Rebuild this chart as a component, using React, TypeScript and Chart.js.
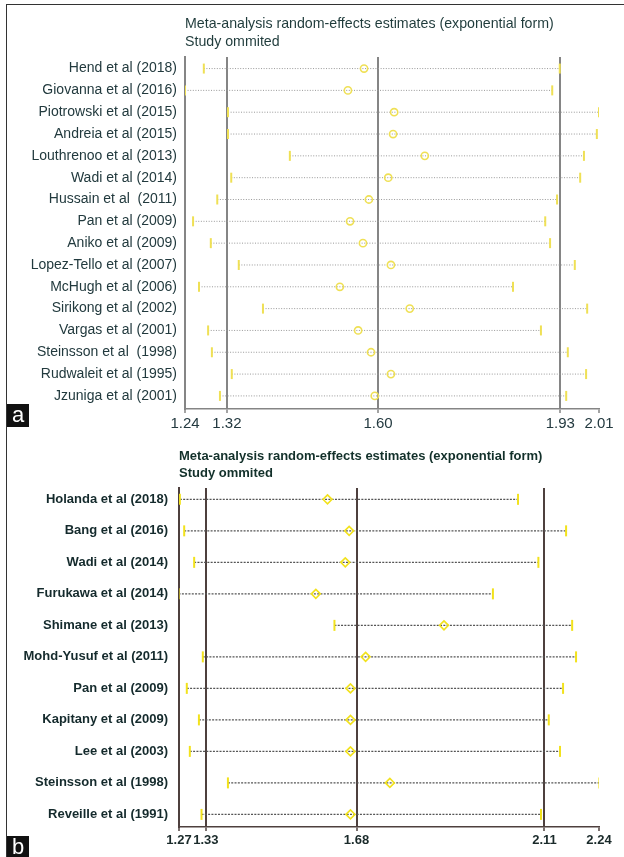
import React, { useEffect, useRef } from "react";
import { Chart, registerables } from "chart.js";

Chart.register(...registerables);

// ---------- Panel a data ----------
const studiesA = [
  "Hend et al (2018)",
  "Giovanna et al (2016)",
  "Piotrowski et al (2015)",
  "Andreia et al (2015)",
  "Louthrenoo et al (2013)",
  "Wadi et al (2014)",
  "Hussain et al  (2011)",
  "Pan et al (2009)",
  "Aniko et al (2009)",
  "Lopez-Tello et al (2007)",
  "McHugh et al (2006)",
  "Sirikong et al (2002)",
  "Vargas et al (2001)",
  "Steinsson et al  (1998)",
  "Rudwaleit et al (1995)",
  "Jzuniga et al (2001)",
];
const estA = [1.573, 1.543, 1.629, 1.627, 1.686, 1.618, 1.582, 1.547, 1.571, 1.623, 1.528, 1.658, 1.562, 1.586, 1.623, 1.593];
const lowA = [1.275, 1.240, 1.320, 1.320, 1.435, 1.326, 1.300, 1.255, 1.288, 1.340, 1.266, 1.385, 1.283, 1.290, 1.327, 1.305];
const highA = [1.937, 1.923, 2.010, 2.006, 1.982, 1.975, 1.932, 1.910, 1.919, 1.965, 1.850, 1.988, 1.902, 1.952, 1.986, 1.949];
const tickValuesA = [1.24, 1.318, 1.599, 1.938, 2.01];
const tickLabelsA = ["1.24", "1.32", "1.60", "1.93", "2.01"];
const titleA = ["Meta-analysis random-effects estimates (exponential form)", "Study ommited"];

// ---------- Panel b data ----------
const studiesB = [
  "Holanda et al (2018)",
  "Bang et al (2016)",
  "Wadi et al (2014)",
  "Furukawa et al (2014)",
  "Shimane et al (2013)",
  "Mohd-Yusuf et al (2011)",
  "Pan et al (2009)",
  "Kapitany et al (2009)",
  "Lee et al (2003)",
  "Steinsson et al (1998)",
  "Reveille et al (1991)",
];
const estB = [1.613, 1.663, 1.654, 1.586, 1.882, 1.701, 1.666, 1.666, 1.666, 1.757, 1.666];
const lowB = [1.272, 1.282, 1.305, 1.269, 1.629, 1.325, 1.288, 1.316, 1.295, 1.383, 1.322];
const highB = [2.053, 2.164, 2.100, 1.995, 2.178, 2.187, 2.157, 2.124, 2.150, 2.241, 2.106];
const tickValuesB = [1.27, 1.332, 1.68, 2.114, 2.24];
const tickLabelsB = ["1.27", "1.33", "1.68", "2.11", "2.24"];
const titleB = ["Meta-analysis random-effects estimates (exponential form)", "Study ommited"];

const FONT = "'Liberation Sans', Arial, Helvetica, sans-serif";

type PanelSpec = {
  studies: string[];
  est: number[];
  low: number[];
  high: number[];
  tickValues: number[];
  tickLabels: string[];
  title: string[];
  xMin: number;
  xMax: number;
  yMin: number;
  yMax: number;
  yAxisWidth: number;
  xAxisHeight: number;
  padRight: number;
  titleFont: any;
  titlePadding: any;
  titleColor: string;
  labelFont: any;
  labelColor: string;
  labelPad: number;
  tickFont: any;
  tickColor: string;
  refColor: string;
  ciColor: string;
  ciDash: number[];
  ciWidth: number;
  yellow: string;
  capRadius: number;
  markStyle: string;
  markRadius: number;
};

function makeConfig(p: PanelSpec): any {
  const lastTick = p.tickValues[p.tickValues.length - 1];
  const ciSets = p.studies.map((_, i) => ({
    type: "scatter",
    data: [
      { x: p.low[i], y: i },
      { x: p.high[i], y: i },
    ],
    showLine: true,
    borderColor: p.ciColor,
    borderWidth: p.ciWidth,
    borderDash: p.ciDash,
    pointRadius: 0,
    order: 3,
  }));
  const caps = {
    type: "scatter",
    data: p.low.map((v, i) => ({ x: v, y: i })).concat(p.high.map((v, i) => ({ x: v, y: i }))),
    pointStyle: "line",
    rotation: 90,
    pointRadius: p.capRadius,
    pointBorderColor: p.yellow,
    borderColor: p.yellow,
    pointBorderWidth: 2,
    showLine: false,
    order: 2,
  };
  const marks = {
    type: "scatter",
    data: p.est.map((v, i) => ({ x: v, y: i })),
    pointStyle: p.markStyle,
    pointRadius: p.markRadius,
    pointBorderColor: p.yellow,
    borderColor: p.yellow,
    pointBackgroundColor: "rgba(0,0,0,0)",
    backgroundColor: "rgba(0,0,0,0)",
    pointBorderWidth: 1.6,
    showLine: false,
    order: 1,
  };
  return {
    type: "scatter",
    data: { datasets: [marks, caps, ...ciSets] },
    options: {
      responsive: false,
      animation: false,
      events: [],
      layout: { padding: { left: 0, right: p.padRight, top: 0, bottom: 0 } },
      plugins: {
        legend: { display: false },
        tooltip: { enabled: false },
        title: {
          display: true,
          text: p.title,
          align: "start",
          fullSize: false,
          color: p.titleColor,
          font: p.titleFont,
          padding: p.titlePadding,
        },
      },
      scales: {
        x: {
          type: "linear",
          position: "bottom",
          min: p.xMin,
          max: p.xMax,
          afterBuildTicks: (s: any) => {
            s.ticks = p.tickValues.map((v) => ({ value: v }));
          },
          afterFit: (s: any) => {
            s.height = p.xAxisHeight;
          },
          grid: {
            display: true,
            drawOnChartArea: true,
            drawTicks: true,
            tickLength: 4,
            lineWidth: 2,
            tickWidth: 1.5,
            tickColor: p.refColor,
            color: (ctx: any) =>
              ctx.tick && Math.abs(ctx.tick.value - lastTick) < 1e-9 ? "rgba(0,0,0,0)" : p.refColor,
          },
          border: { display: true, color: p.refColor, width: 1.5 },
          ticks: {
            autoSkip: false,
            maxRotation: 0,
            minRotation: 0,
            padding: 2,
            color: p.tickColor,
            font: p.tickFont,
            callback: (_v: any, i: number) => p.tickLabels[i],
          },
        },
        y: {
          type: "linear",
          reverse: true,
          min: p.yMin,
          max: p.yMax,
          afterBuildTicks: (s: any) => {
            s.ticks = p.studies.map((_, i) => ({ value: i }));
          },
          afterFit: (s: any) => {
            s.width = p.yAxisWidth;
          },
          grid: { display: false, drawTicks: false, tickLength: 0 },
          border: { display: true, color: p.refColor, width: 2 },
          ticks: {
            autoSkip: false,
            padding: p.labelPad,
            color: p.labelColor,
            font: p.labelFont,
            callback: (v: any) => p.studies[Math.round(v)],
          },
        },
      },
    },
  };
}

const specA: PanelSpec = {
  studies: studiesA,
  est: estA,
  low: lowA,
  high: highA,
  tickValues: tickValuesA,
  tickLabels: tickLabelsA,
  title: titleA,
  xMin: 1.24,
  xMax: 2.01,
  yMin: -0.53,
  yMax: 15.6,
  yAxisWidth: 185,
  xAxisHeight: 23,
  padRight: 25,
  titleFont: { family: FONT, size: 14.2, weight: "normal", lineHeight: "18px" },
  titlePadding: { top: 15, bottom: 6 },
  titleColor: "#1f3b3b",
  labelFont: { family: FONT, size: 14, weight: "normal" },
  labelColor: "#223a3e",
  labelPad: 8,
  tickFont: { family: FONT, size: 15, weight: "normal" },
  tickColor: "#243a40",
  refColor: "#858585",
  ciColor: "#999999",
  ciDash: [1, 1.6],
  ciWidth: 1,
  yellow: "#efe055",
  capRadius: 5,
  markStyle: "circle",
  markRadius: 3.6,
};

const specB: PanelSpec = {
  studies: studiesB,
  est: estB,
  low: lowB,
  high: highB,
  tickValues: tickValuesB,
  tickLabels: tickLabelsB,
  title: titleB,
  xMin: 1.27,
  xMax: 2.24,
  yMin: -0.36,
  yMax: 10.4,
  yAxisWidth: 179,
  xAxisHeight: 30,
  padRight: 25,
  titleFont: { family: FONT, size: 13, weight: "bold", lineHeight: "16.5px" },
  titlePadding: { top: 16.5, bottom: 6.5 },
  titleColor: "#12302a",
  labelFont: { family: FONT, size: 13, weight: "bold" },
  labelColor: "#142a2c",
  labelPad: 11,
  tickFont: { family: FONT, size: 13, weight: "bold" },
  tickColor: "#1a2a2a",
  refColor: "#4e403e",
  ciColor: "#555555",
  ciDash: [2, 1.3],
  ciWidth: 1.4,
  yellow: "#f2e21c",
  capRadius: 5.5,
  markStyle: "rectRot",
  markRadius: 4.5,
};

function Panel({ spec, top, height }: { spec: PanelSpec; top: number; height: number }) {
  const ref = useRef<HTMLCanvasElement | null>(null);
  useEffect(() => {
    if (!ref.current) return;
    const chart = new Chart(ref.current, makeConfig(spec));
    return () => chart.destroy();
  }, [spec]);
  return (
    <canvas
      ref={ref}
      width={624}
      height={height}
      style={{ position: "absolute", left: 0, top, width: 624, height, display: "block" }}
    />
  );
}

const tagStyle: React.CSSProperties = {
  position: "absolute",
  left: 7,
  width: 22,
  background: "#111",
  color: "#fff",
  fontFamily: FONT,
  fontSize: 22,
  lineHeight: "21px",
  textAlign: "center",
};

export default function App() {
  return (
    <div style={{ position: "absolute", left: 0, top: 0, width: 624, height: 857, background: "#fff", overflow: "hidden" }}>
      <div
        style={{
          position: "absolute",
          left: 6,
          top: 4,
          width: 640,
          height: 900,
          borderLeft: "1.5px solid #333",
          borderTop: "1.5px solid #333",
        }}
      />
      <Panel spec={specA} top={0} height={432} />
      <Panel spec={specB} top={432} height={425} />
      <div style={{ ...tagStyle, top: 404, height: 23 }}>a</div>
      <div style={{ ...tagStyle, top: 836, height: 21 }}>b</div>
    </div>
  );
}
